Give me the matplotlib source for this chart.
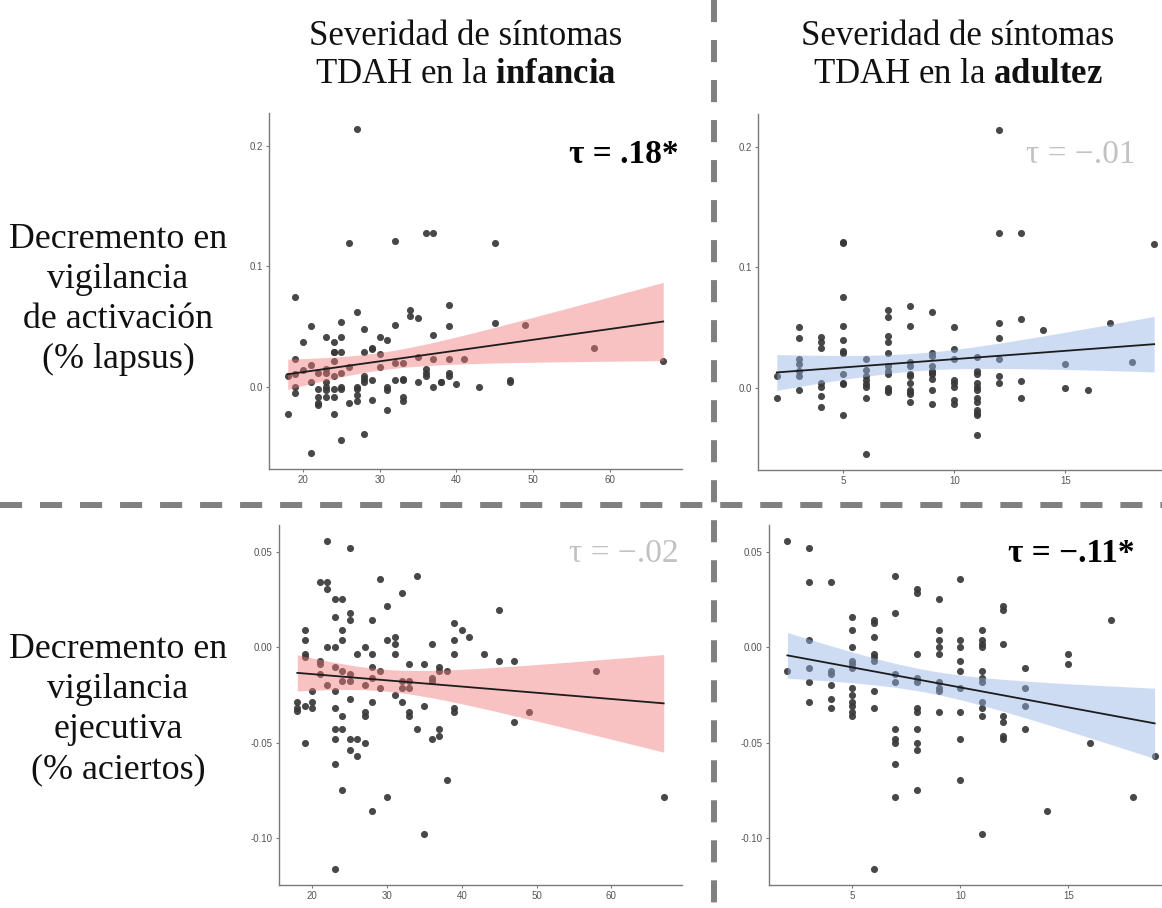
import numpy as np
import matplotlib
matplotlib.use("Agg")
import matplotlib.pyplot as plt
from matplotlib.lines import Line2D
from matplotlib.ticker import FixedLocator, FixedFormatter

# ---------------- data ----------------
col_titles_l1 = ["Severidad de síntomas", "Severidad de síntomas"]
col_titles_l2 = [r"TDAH en la $\mathbf{infancia}$", r"TDAH en la $\mathbf{adultez}$"]
row_labels_top = ["Decremento en", "vigilancia", "de activación", "(% lapsus)"]
row_labels_bot = ["Decremento en", "vigilancia", "ejecutiva", "(% aciertos)"]

tau_text = ["τ = .18*", "τ = −.01", "τ = −.02", "τ = −.11*"]
tau_signif = [True, False, False, True]

child_xticks = [20, 30, 40, 50, 60]
adult_xticks = [5, 10, 15]
top_yticks = [0.0, 0.1, 0.2]
top_ylabels = ["0.0", "0.1", "0.2"]
bot_yticks = [-0.10, -0.05, 0.00, 0.05]
bot_ylabels = ["-0.10", "-0.05", "0.00", "0.05"]

# Panel 1: childhood symptoms vs arousal vigilance decrement (% lapses)
p1_x = [18, 18, 19, 19, 19, 19, 19, 20, 20, 21, 21, 21, 21, 22, 22, 22, 22, 22,
        23, 23, 23, 23, 23, 23, 23, 24, 24, 24, 24, 24, 24, 24, 24,
        25, 25, 25, 25, 25, 25, 25, 26, 26, 26, 27, 27, 27, 27, 27, 27,
        28, 28, 28, 28, 28, 28, 29, 29, 29, 29, 30, 30, 30, 31, 31, 31, 31,
        32, 32, 32, 32, 33, 33, 33, 33, 33, 34, 34, 35, 35, 35, 36, 36, 36, 36,
        37, 37, 37, 37, 38, 38, 39, 39, 39, 39, 39, 40, 41, 43, 45, 45, 47, 47,
        49, 58, 67]
p1_y = [0.0088, -0.023, 0.0745, 0.023, 0.0104, 0.0, -0.0055, 0.037, 0.0137,
        0.05, 0.018, 0.0036, -0.055, 0.011, -0.002, -0.009, -0.014, -0.0156,
        0.041, 0.0145, 0.011, 0.0036, 0.0, -0.003, -0.009,
        0.037, 0.0285, 0.0285, 0.021, 0.0088, -0.002, -0.009, -0.023,
        0.0537, 0.041, 0.0285, 0.011, 0.0, -0.002, -0.044,
        0.119, 0.0164, -0.014, 0.214, 0.062, 0.0, -0.002, -0.007, -0.012,
        0.048, 0.0285, 0.0088, 0.0063, 0.0036, -0.039,
        0.032, 0.031, 0.0055, -0.0107, 0.041, 0.027, 0.0164,
        0.039, 0.0, -0.003, -0.0197, 0.121, 0.0515, 0.0197, 0.0055,
        0.0197, 0.0063, 0.0055, -0.009, -0.012, 0.064, 0.059,
        0.057, 0.025, 0.0036, 0.128, 0.0145, 0.011, 0.0088,
        0.128, 0.0427, 0.023, 0.0, 0.0036, 0.0036,
        0.0677, 0.05, 0.023, 0.011, 0.0088, 0.002, 0.023, 0.0,
        0.119, 0.053, 0.0055, 0.0036, 0.0515, 0.032, 0.021]

# Panel 2: adulthood symptoms vs arousal vigilance decrement (% lapses)
p2_x = [2, 2, 3, 3, 3, 3, 3, 3, 3, 4, 4, 4, 4, 4, 4, 4,
        5, 5, 5, 5, 5, 5, 5, 5, 5, 5, 5, 6, 6, 6, 6, 6, 6, 6, 6,
        7, 7, 7, 7, 7, 7, 7, 7, 7, 7, 7, 8, 8, 8, 8, 8, 8, 8, 8, 8, 8, 8,
        9, 9, 9, 9, 9, 9, 9, 9, 9, 9, 10, 10, 10, 10, 10, 10, 10, 10,
        11, 11, 11, 11, 11, 11, 11, 11, 11, 11, 11, 11,
        12, 12, 12, 12, 12, 12, 12, 13, 13, 13, 13, 14, 15, 15, 16, 17, 18, 19]
p2_y = [0.0093, -0.009,
        0.05, 0.041, 0.0236, 0.0197, 0.014, 0.0093, -0.002,
        0.0416, 0.038, 0.0326, 0.0038, 0.0005, -0.007, -0.016,
        0.121, 0.12, 0.075, 0.0515, 0.0395, 0.030, 0.0285, 0.011, 0.0038, 0.0033, -0.023,
        0.0236, 0.0148, 0.0093, 0.006, 0.0027, 0.0005, -0.009, -0.055,
        0.0647, 0.059, 0.043, 0.0375, 0.0285, 0.018, 0.014, 0.011, 0.0, -0.002, -0.0036,
        0.068, 0.0515, 0.0216, 0.018, 0.011, 0.0093, 0.0038, -0.0016, -0.0036, -0.005, -0.012,
        0.0625, 0.0285, 0.0266, 0.018, 0.014, 0.0126, 0.011, 0.0074, -0.002, -0.014,
        0.05, 0.0323, 0.0236, 0.006, 0.0038, 0.0005, -0.0104, -0.014,
        0.0252, 0.014, 0.011, 0.0038, 0.0005, -0.002, -0.009, -0.012, -0.019, -0.0208, -0.023, -0.039,
        0.2137, 0.128, 0.0534, 0.041, 0.0236, 0.0093, 0.0038,
        0.128, 0.057, 0.0055, -0.009, 0.048, 0.0197, 0.0, -0.0016, 0.0534, 0.0216, 0.1195]

# Panel 3: childhood symptoms vs executive vigilance decrement (% hits)
p3_x = [18, 18, 18, 19, 19, 19, 19, 19, 19, 20, 20, 20, 21, 21, 21, 21,
        22, 22, 22, 22, 22, 23, 23, 23, 23, 23, 23, 23, 23, 23, 23,
        24, 24, 24, 24, 24, 24, 24, 24, 25, 25, 25, 25, 25, 25, 25, 25,
        26, 26, 26, 27, 27, 27, 27, 27, 28, 28, 28, 28, 28, 28,
        29, 29, 29, 30, 30, 30, 31, 31, 31, 31, 32, 32, 32, 32,
        33, 33, 33, 33, 33, 34, 34, 35, 35, 35, 36, 36, 36, 36,
        37, 37, 37, 37, 38, 38, 39, 39, 39, 39, 39, 40, 41, 43, 45, 45,
        47, 47, 49, 58, 67]
p3_y = [-0.0285, -0.032, -0.0337,
        0.009, 0.0035, -0.0035, -0.005, -0.0306, -0.05,
        -0.023, -0.0285, -0.032,
        0.034, -0.007, -0.0087, -0.014,
        0.0554, 0.034, 0.0304, 0.0, -0.0196,
        0.025, 0.016, 0.0, -0.0105, -0.023, -0.032, -0.043, -0.048, -0.061, -0.116,
        0.025, 0.009, 0.0035, -0.0124, -0.0178, -0.0358, -0.043, -0.075,
        0.052, 0.018, 0.0143, -0.014, -0.0178, -0.027, -0.048, -0.054,
        -0.0035, -0.048, -0.057,
        0.0, -0.0196, -0.034, -0.0358, -0.05,
        0.0143, -0.0035, -0.0105, -0.016, -0.0285, -0.086,
        0.0358, -0.0124, -0.0215,
        0.0215, 0.0035, -0.0786,
        0.0054, 0.0017, -0.0035, -0.025,
        0.0286, -0.0178, -0.0215, -0.0285,
        -0.0087, -0.0178, -0.0215, -0.034, -0.0358,
        0.0375, -0.043,
        -0.0087, -0.0306, -0.098,
        0.0017, -0.016, -0.0178, -0.048,
        -0.0105, -0.0124, -0.043, -0.0465,
        -0.0124, -0.0697,
        0.0126, 0.0035, -0.0035, -0.032, -0.034,
        0.009, 0.0054, -0.0035, 0.0197, -0.007, -0.007, -0.039, -0.034, -0.0124, -0.0786]

# Panel 4: adulthood symptoms vs executive vigilance decrement (% hits)
p4_x = [2, 2, 3, 3, 3, 3, 3, 3, 4, 4, 4, 4, 4, 4,
        5, 5, 5, 5, 5, 5, 5, 5, 5, 5, 5, 5, 6, 6, 6, 6, 6, 6, 6, 6, 6,
        7, 7, 7, 7, 7, 7, 7, 7, 7, 8, 8, 8, 8, 8, 8, 8, 8, 8, 8, 8,
        9, 9, 9, 9, 9, 9, 9, 9, 9, 10, 10, 10, 10, 10, 10, 10, 10, 10,
        11, 11, 11, 11, 11, 11, 11, 11, 11, 11, 11,
        12, 12, 12, 12, 12, 12, 12, 13, 13, 13, 13, 14, 15, 15, 16, 17, 18, 19]
p4_y = [0.0554, -0.0126,
        0.052, 0.034, 0.0035, -0.011, -0.018, -0.0286,
        0.034, -0.0126, -0.0143, -0.0197, -0.027, -0.032,
        0.016, 0.009, 0.0, -0.0072, -0.009, -0.011, -0.0215, -0.025, -0.0286, -0.0306, -0.034, -0.0358,
        0.0143, 0.0126, 0.0054, -0.0035, -0.0054, -0.0072, -0.023, -0.032, -0.116,
        0.0375, 0.018, -0.0143, -0.018, -0.043, -0.048, -0.05, -0.061, -0.0786,
        0.0304, 0.0286, -0.0035, -0.016, -0.018, -0.032, -0.034, -0.043, -0.05, -0.054, -0.075,
        0.025, 0.009, 0.0035, 0.0, -0.0035, -0.018, -0.0215, -0.023, -0.034,
        0.0358, 0.0035, 0.0, -0.0072, -0.0126, -0.0215, -0.034, -0.048, -0.0697,
        0.009, 0.0035, 0.0017, 0.0, -0.0126, -0.016, -0.018, -0.0286, -0.032, -0.0358, -0.098,
        0.0215, 0.0197, 0.0017, -0.0358, -0.039, -0.0465, -0.048,
        -0.011, -0.0215, -0.0306, -0.043,
        -0.086, -0.0035, -0.009, -0.05, 0.0143, -0.0786, -0.057]

# ---------------- style ----------------
W, H = 1162, 908
plt.rcParams['font.family'] = ['Liberation Serif', 'DejaVu Serif']
plt.rcParams['mathtext.fontset'] = 'custom'
plt.rcParams['mathtext.rm'] = 'Liberation Serif'
plt.rcParams['mathtext.it'] = 'Liberation Serif:italic'
plt.rcParams['mathtext.bf'] = 'Liberation Serif:bold'

PINK = (0.94, 0.47, 0.47)
BLUE = (0.58, 0.70, 0.90)
POINT = '#383838'
AXCOL = '#7a7a7a'
TICKTXT = '#555555'
GRAYTXT = '#c2c2c2'


def px(x, y):
    return x / W, 1 - y / H


def ax_at(left, top, right, bottom):
    return fig.add_axes([left / W, 1 - bottom / H, (right - left) / W, (bottom - top) / H])


def lm_band(x, y, t=1.98, n=80):
    x = np.asarray(x, float)
    y = np.asarray(y, float)
    b, a = np.polyfit(x, y, 1)
    res = y - (a + b * x)
    s = np.sqrt(np.sum(res ** 2) / (len(x) - 2))
    sxx = np.sum((x - x.mean()) ** 2)
    xs = np.linspace(x.min(), x.max(), n)
    fit = a + b * xs
    se = s * np.sqrt(1 / len(x) + (xs - x.mean()) ** 2 / sxx)
    return xs, fit, fit - t * se, fit + t * se


def panel(ax, x, y, band_col, xticks, yticks, ylabels):
    ax.scatter(x, y, s=26, color=POINT, alpha=0.92, linewidths=0, zorder=2)
    xs, fit, lo, hi = lm_band(x, y)
    ax.fill_between(xs, lo, hi, color=band_col, alpha=0.45, linewidth=0, zorder=3)
    ax.plot(xs, fit, color='#1c1c1c', lw=1.3, zorder=4)
    for side in ['top', 'right']:
        ax.spines[side].set_visible(False)
    for side in ['left', 'bottom']:
        ax.spines[side].set_color(AXCOL)
        ax.spines[side].set_linewidth(1.0)
    ax.xaxis.set_major_locator(FixedLocator(xticks))
    ax.xaxis.set_major_formatter(FixedFormatter([str(v) for v in xticks]))
    ax.yaxis.set_major_locator(FixedLocator(yticks))
    ax.yaxis.set_major_formatter(FixedFormatter(ylabels))
    ax.tick_params(axis='both', length=2.5, width=0.8, color=AXCOL,
                   labelsize=7, labelcolor=TICKTXT, pad=2)
    for lab in ax.get_xticklabels() + ax.get_yticklabels():
        lab.set_family('Liberation Sans')
    ax.margins(0.05)


fig = plt.figure(figsize=(W / 100, H / 100), dpi=100)

ax1 = ax_at(269, 113, 682, 469)
ax2 = ax_at(758, 114, 1173, 470)
ax3 = ax_at(279, 525, 682, 885)
ax4 = ax_at(769, 525, 1173, 885)

panel(ax1, p1_x, p1_y, PINK, child_xticks, top_yticks, top_ylabels)
panel(ax2, p2_x, p2_y, BLUE, adult_xticks, top_yticks, top_ylabels)
panel(ax3, p3_x, p3_y, PINK, child_xticks, bot_yticks, bot_ylabels)
panel(ax4, p4_x, p4_y, BLUE, adult_xticks, bot_yticks, bot_ylabels)

# column titles
for cx, l1, l2 in zip([466, 958], col_titles_l1, col_titles_l2):
    fig.text(*px(cx, 45), l1, ha='center', va='baseline', fontsize=25, color='#111111')
    fig.text(*px(cx, 83), l2, ha='center', va='baseline', fontsize=25, color='#111111')

# row labels
for base, lines in zip([248, 658], [row_labels_top, row_labels_bot]):
    for i, line in enumerate(lines):
        fig.text(*px(118, base + 40 * i), line, ha='center', va='baseline',
                 fontsize=25.8, color='#111111')

# tau annotations
tau_pos = [(679, 163), (1135, 163), (679, 562), (1135, 562)]
for (tx, ty), txt, sig in zip(tau_pos, tau_text, tau_signif):
    if sig:
        fig.text(*px(tx, ty), txt, ha='right', va='baseline', fontsize=24,
                 fontweight='bold', color='black')
    else:
        fig.text(*px(tx, ty), txt, ha='right', va='baseline', fontsize=24,
                 color=GRAYTXT)

# dashed separators
dash_kw = dict(color='#808080', lw=4.3, dashes=(3.7, 3.0), transform=fig.transFigure, zorder=10)
fig.add_artist(Line2D([0, 1], [1 - 505 / H, 1 - 505 / H], **dash_kw))
fig.add_artist(Line2D([714 / W, 714 / W], [1, 0], **dash_kw))

fig.savefig('out.png', dpi=100)
